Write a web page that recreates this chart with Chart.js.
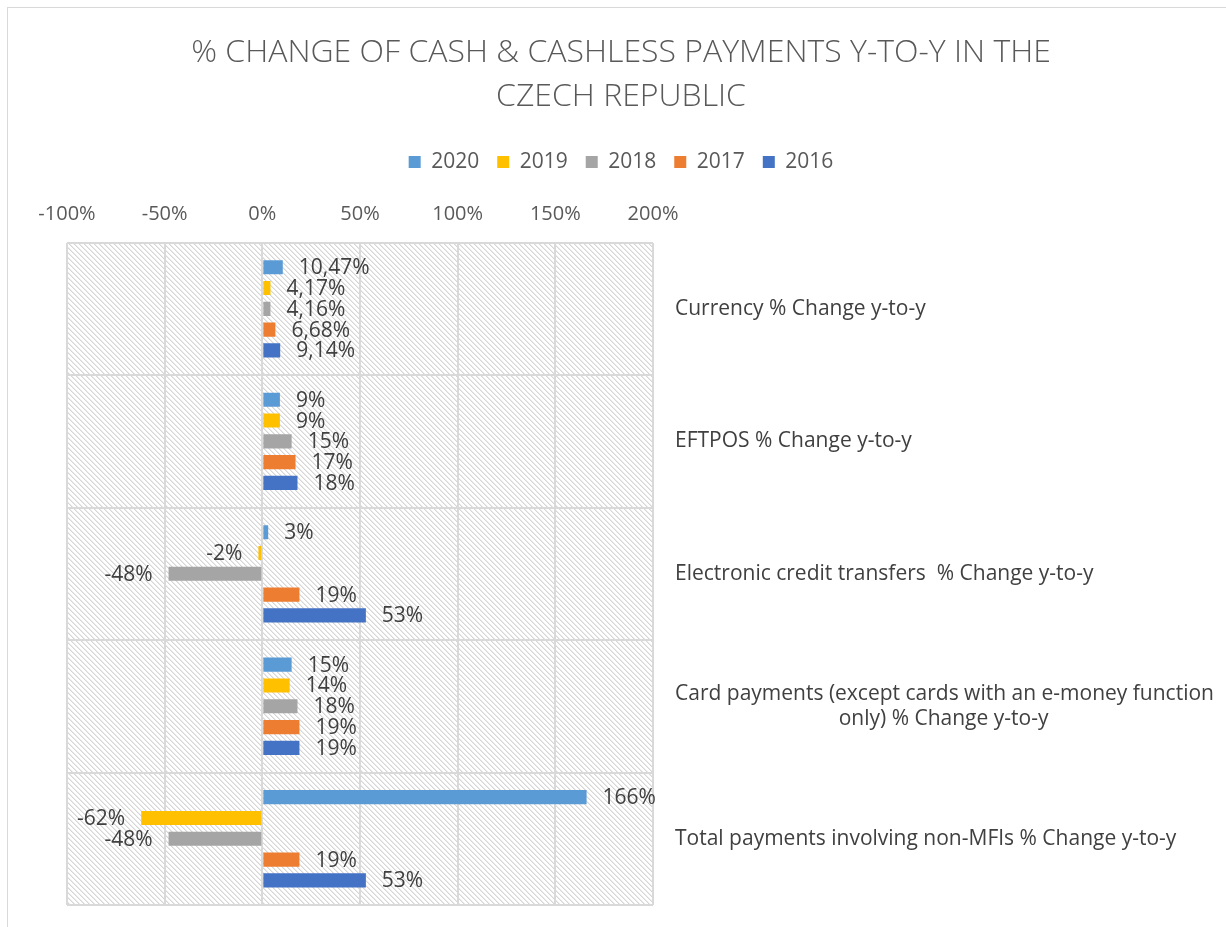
<!DOCTYPE html>
<html lang="en">
<head>
  <meta charset="UTF-8">
  <title>% Change of Cash & Cashless Payments</title>
  <script src="https://cdn.jsdelivr.net/npm/chart.js@4.4.1/dist/chart.umd.min.js"></script>
  <style>
    html, body { margin: 0; padding: 0; background: #fff; overflow: hidden; }
    #frame { position: absolute; left: 7px; top: 7px; width: 1300px; height: 1000px; border: 1px solid #d9d9d9; }
    #wrap { position: absolute; left: 0; top: 0; width: 1226px; height: 927px; }
  </style>
</head>
<body>
  <div id="frame"></div>
  <div id="wrap"><canvas id="chart"></canvas></div>

  <script>
    // data
    const categories = [
      'Currency % Change y-to-y',
      'EFTPOS % Change y-to-y',
      'Electronic credit transfers  % Change y-to-y',
      ['Card payments (except cards with an e-money function', 'only) % Change y-to-y'],
      'Total payments involving non-MFIs % Change y-to-y'
    ];
    const years = ['2020', '2019', '2018', '2017', '2016'];
    const v2020 = [10.47, 9, 3, 15, 166];
    const v2019 = [4.17, 9, -2, 14, -62];
    const v2018 = [4.16, 15, -48, 18, -48];
    const v2017 = [6.68, 17, 19, 19, 19];
    const v2016 = [9.14, 18, 53, 19, 53];
    const labelDecimals = [2, 0, 0, 0, 0];
    const xTicks = { min: -100, max: 200, step: 50 };

    const colors = ['#5B9BD5', '#FFC000', '#A5A5A5', '#ED7D31', '#4472C4'];
    const FONT = 'Open Sans';
    const TXT = 21;
    Chart.defaults.font.family = FONT;

    // centre the 2nd line of a wrapped label under the first one (Excel-style)
    function centerLines(lines, size) {
      const ctx = document.createElement('canvas').getContext('2d');
      ctx.font = size + 'px "' + FONT + '"';
      const w0 = ctx.measureText(lines[0]).width;
      return lines.map((l, i) => {
        if (i === 0) return l;
        let s = l;
        while (2 * ctx.measureText(' ' + s).width - ctx.measureText(l).width <= w0) s = ' ' + s;
        return s;
      });
    }
    const catLabels = categories.map(c => Array.isArray(c) ? centerLines(c, TXT) : c);

    function hatch() {
      const n = 5;
      const c = document.createElement('canvas');
      c.width = n; c.height = n;
      const g = c.getContext('2d');
      const img = g.createImageData(n, n);
      for (let y = 0; y < n; y++) {
        for (let x = 0; x < n; x++) {
          const d = ((x - y) % n + n) % n;
          const v = d === 0 ? 214 : d === 1 ? 234 : 255;
          const k = (y * n + x) * 4;
          img.data[k] = v; img.data[k + 1] = v; img.data[k + 2] = v; img.data[k + 3] = 255;
        }
      }
      g.putImageData(img, 0, 0);
      return g.createPattern(c, 'repeat');
    }

    const plotBg = {
      id: 'plotBg',
      beforeDraw(chart) {
        const { ctx, chartArea: a } = chart;
        ctx.save();
        ctx.fillStyle = hatch();
        ctx.fillRect(a.left, a.top, a.right - a.left, a.bottom - a.top);
        ctx.restore();
      }
    };

    const valueLabels = {
      id: 'valueLabels',
      afterDatasetsDraw(chart) {
        const ctx = chart.ctx;
        ctx.save();
        ctx.font = TXT + 'px "' + FONT + '"';
        ctx.fillStyle = '#404040';
        ctx.textBaseline = 'middle';
        chart.data.datasets.forEach((ds, di) => {
          chart.getDatasetMeta(di).data.forEach((bar, i) => {
            const v = ds.data[i];
            const txt = v.toFixed(labelDecimals[i]).replace('.', ',') + '%';
            if (v >= 0) { ctx.textAlign = 'left'; ctx.fillText(txt, bar.x + 16, bar.y + 1); }
            else { ctx.textAlign = 'right'; ctx.fillText(txt, bar.x - 16, bar.y + 1); }
          });
        });
        ctx.restore();
      }
    };

    const series = [v2020, v2019, v2018, v2017, v2016];

    new Chart(document.getElementById('chart'), {
      type: 'bar',
      data: {
        labels: catLabels,
        datasets: years.map((y, i) => ({
          label: y,
          data: series[i],
          backgroundColor: colors[i],
          borderWidth: 0,
          categoryPercentage: 0.785,
          barPercentage: 0.68
        }))
      },
      options: {
        indexAxis: 'y',
        responsive: true,
        maintainAspectRatio: false,
        animation: false,
        layout: { padding: { left: 16, right: 0, top: 8, bottom: 22 } },
        plugins: {
          title: {
            display: true,
            text: ['% CHANGE OF CASH & CASHLESS PAYMENTS Y-TO-Y IN THE', 'CZECH REPUBLIC'],
            color: '#595959',
            font: { size: 32, weight: 300, lineHeight: 1.4 },
            padding: { top: 22, bottom: 14 }
          },
          legend: {
            labels: { boxWidth: 12, boxHeight: 12, padding: 18, color: '#595959', font: { size: TXT } }
          },
          tooltip: { enabled: false }
        },
        scales: {
          x: {
            position: 'top',
            min: xTicks.min,
            max: xTicks.max,
            ticks: {
              stepSize: xTicks.step,
              color: '#595959',
              font: { size: 20 },
              padding: 16,
              callback: v => v + '%'
            },
            grid: { color: '#d9d9d9', lineWidth: 2, drawTicks: false },
            border: { display: false },
            afterFit(scale) { scale.height += 4; }
          },
          y: {
            position: 'right',
            ticks: { color: '#404040', font: { size: TXT }, padding: 22, crossAlign: 'near' },
            grid: { color: '#d9d9d9', lineWidth: 2, drawTicks: false, offset: true },
            border: { display: false },
            afterFit(scale) {
              scale.width = 1226 - 653;
              scale.paddingTop = 0;
              scale.paddingBottom = 0;
            }
          },
          yLeft: {
            type: 'category',
            position: 'left',
            grid: { display: false },
            border: { display: false },
            ticks: { display: false },
            afterFit(scale) { scale.width = 67 - 16; }
          }
        }
      },
      plugins: [plotBg, valueLabels]
    });
  </script>
</body>
</html>
